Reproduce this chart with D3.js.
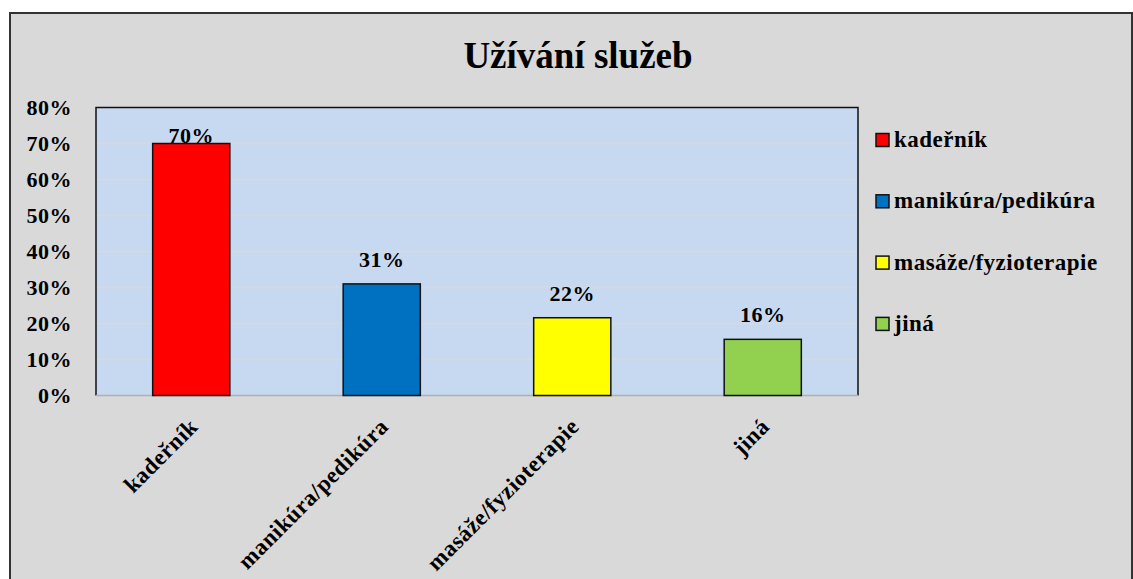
<!DOCTYPE html>
<html>
<head>
<meta charset="utf-8">
<script src="https://cdn.jsdelivr.net/npm/d3@7"></script>
<style>
  body { margin: 0; background: #ffffff; }
  text { font-family: "Liberation Serif", "Times New Roman", serif; font-weight: bold; fill: #000; }
</style>
</head>
<body>
<script>
// chart data
var categories = ["kadeřník", "manikúra/pedikúra", "masáže/fyzioterapie", "jiná"];
var values = [0.70, 0.31, 0.216, 0.156];
var colors = ["#ff0000", "#0070c0", "#ffff00", "#92d050"];
var yTicks = [0, 0.1, 0.2, 0.3, 0.4, 0.5, 0.6, 0.7, 0.8];
var title = "Užívání služeb";

// label lift above bar top (first label sits on the bar in the original)
var labelLift = [1, 17, 17, 17];

var W = 1133, H = 579;
var plot = {left: 96, right: 858, top: 107.5, bottom: 395.5};

var svg = d3.select("body")
  .append("svg")
  .attr("width", W)
  .attr("height", H);

// chart area frame
svg.append("rect")
  .attr("x", 10)
  .attr("y", 13)
  .attr("width", 1122)
  .attr("height", 600)
  .attr("fill", "#d9d9d9")
  .attr("stroke", "#333")
  .attr("stroke-width", 2);

svg.append("text")
  .attr("x", 578)
  .attr("y", 68)
  .attr("text-anchor", "middle")
  .attr("font-size", "37px")
  .text(title);

var x = d3.scaleBand()
  .domain(categories)
  .range([plot.left, plot.right])
  .paddingInner(0.595)
  .paddingOuter(0.2975);

var y = d3.scaleLinear()
  .domain([0, 0.8])
  .range([plot.bottom, plot.top]);

// plot background
svg.append("rect")
  .attr("x", plot.left)
  .attr("y", plot.top)
  .attr("width", plot.right - plot.left)
  .attr("height", plot.bottom - plot.top)
  .attr("fill", "#c6d9f1");

// gridlines
svg.append("g")
  .selectAll("line")
  .data(yTicks.slice(1, -1))
  .enter()
  .append("line")
  .attr("x1", plot.left)
  .attr("x2", plot.right)
  .attr("y1", function(d) { return y(d); })
  .attr("y2", function(d) { return y(d); })
  .attr("stroke", "#d9d9d9")
  .attr("stroke-width", 1.5);

// plot border: black top/left/right, grey base
svg.append("path")
  .attr("d", "M" + plot.left + "," + plot.bottom + "V" + plot.top + "H" + plot.right + "V" + plot.bottom)
  .attr("fill", "none")
  .attr("stroke", "#111")
  .attr("stroke-width", 1.5);
svg.append("line")
  .attr("x1", plot.left)
  .attr("x2", plot.right)
  .attr("y1", plot.bottom)
  .attr("y2", plot.bottom)
  .attr("stroke", "#b0b0b0")
  .attr("stroke-width", 1.5);

// y axis labels
var yAxis = d3.axisLeft(y)
  .tickValues(yTicks)
  .tickFormat(d3.format(".0%"))
  .tickSize(0)
  .tickPadding(0);
var gy = svg.append("g")
  .attr("transform", "translate(72,0)")
  .call(yAxis);
gy.select(".domain").remove();
gy.selectAll("text")
  .attr("font-family", "Liberation Serif")
  .attr("font-weight", "bold")
  .attr("font-size", "22px")
  .attr("letter-spacing", "0.5px")
  .attr("fill", "#000");

// bars
svg.append("g")
  .selectAll("rect")
  .data(values)
  .enter()
  .append("rect")
  .attr("x", function(d, i) { return x(categories[i]); })
  .attr("y", function(d) { return y(d); })
  .attr("width", x.bandwidth())
  .attr("height", function(d) { return y(0) - y(d); })
  .attr("fill", function(d, i) { return colors[i]; })
  .attr("stroke", "#111")
  .attr("stroke-width", 1.5);

// data labels
svg.append("g")
  .selectAll("text")
  .data(values)
  .enter()
  .append("text")
  .attr("x", function(d, i) { return x(categories[i]) + x.bandwidth() / 2; })
  .attr("y", function(d, i) { return y(d) - labelLift[i]; })
  .attr("text-anchor", "middle")
  .attr("font-size", "22px")
  .attr("letter-spacing", "0.5px")
  .text(function(d) { return d3.format(".0%")(d); });

// x axis labels, rotated
svg.append("g")
  .selectAll("text")
  .data(categories)
  .enter()
  .append("text")
  .attr("transform", function(d) {
    var cx = x(d) + x.bandwidth() / 2;
    return "translate(" + (cx + 8) + "," + 428 + ") rotate(-45)";
  })
  .attr("text-anchor", "end")
  .attr("font-size", "23px")
  .attr("letter-spacing", "0.5px")
  .text(function(d) { return d; });

// legend
var legend = svg.append("g")
  .selectAll("g")
  .data(categories)
  .enter()
  .append("g")
  .attr("transform", function(d, i) { return "translate(876," + (140 + i * 61.3) + ")"; });
legend.append("rect")
  .attr("x", 0)
  .attr("y", -6.5)
  .attr("width", 13)
  .attr("height", 13)
  .attr("fill", function(d, i) { return colors[i]; })
  .attr("stroke", "#111")
  .attr("stroke-width", 1.5);
legend.append("text")
  .attr("x", 18)
  .attr("y", 7)
  .attr("font-size", "23px")
  .attr("letter-spacing", "0.5px")
  .text(function(d) { return d; });
</script>
</body>
</html>
